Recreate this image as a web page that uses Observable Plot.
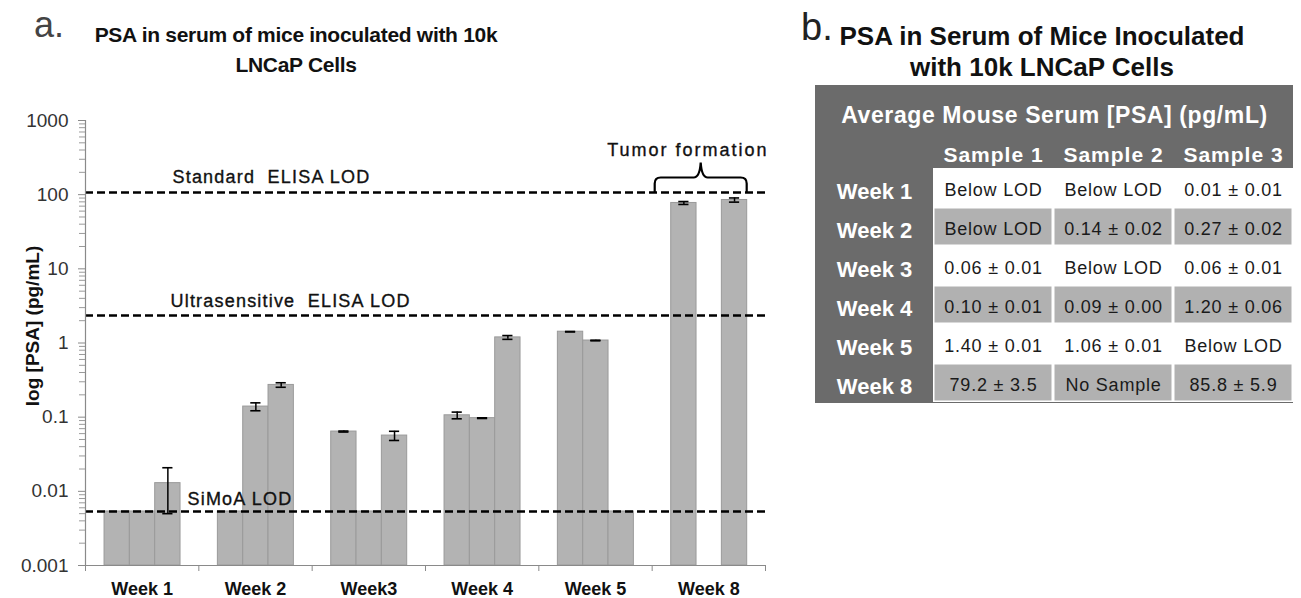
<!DOCTYPE html>
<html><head><meta charset="utf-8">
<script src="https://cdn.jsdelivr.net/npm/d3@7"></script>
<script src="https://cdn.jsdelivr.net/npm/@observablehq/plot@0.6"></script>
<style>
html,body{margin:0;padding:0;background:#fff;}
body{width:1301px;height:598px;overflow:hidden;position:relative;font-family:"Liberation Sans",Arial,sans-serif;color:#111;}
.abs{position:absolute;white-space:nowrap;}
#chart text, #table text{white-space:pre;}
</style></head><body>
<div class="abs" style="left:34px;top:7px;font-size:36px;line-height:36px;color:#444;">a.</div>
<div class="abs" style="left:46px;top:20px;width:500px;text-align:center;font-size:21px;font-weight:bold;line-height:30px;letter-spacing:-0.3px;">PSA in serum of mice inoculated with 10k<br>LNCaP Cells</div>
<div class="abs" style="left:801px;top:8px;font-size:38px;line-height:38px;color:#222;">b.</div>
<div class="abs" style="left:792px;top:21px;width:500px;text-align:center;font-size:26px;font-weight:bold;line-height:31px;">PSA in Serum of Mice Inoculated<br>with 10k LNCaP Cells</div>
<div id="chart" class="abs" style="left:0;top:100px;"></div>
<div id="table" class="abs" style="left:815px;top:85px;"></div>
<script>
// ---------- data ----------
const weeks = ["Week 1", "Week 2", "Week3", "Week 4", "Week 5", "Week 8"];
const samples = ["Sample 1", "Sample 2", "Sample 3"];
// bar heights in pg/mL; "LOD" = below SiMoA LOD (bar drawn up to the LOD), null = no sample
const sample1 = ["LOD", "LOD", 0.064, 0.106, 1.42, 77.3];
const sample2 = ["LOD", 0.139, "LOD", 0.097, 1.08, null];
const sample3 = [0.0129, 0.272, 0.0565, 1.19, "LOD", 84.8];
const error1 = [0, 0, 0.001, 0.011, 0.01, 3.5];
const error2 = [0, 0.017, 0, 0.001, 0.01, 0];
const error3 = [0.0079, 0.019, 0.008, 0.07, 0, 5.5];
const lodNames = ["Standard  ELISA LOD", "Ultrasensitive  ELISA LOD", "SiMoA LOD"];
const lodValues = [107, 2.34, 0.00535];
const yTicks = [0.001, 0.01, 0.1, 1, 10, 100, 1000];
const annotation = "Tumor formation";
const yLabel = "log [PSA] (pg/mL)";
const tableHeader = "Average Mouse Serum [PSA] (pg/mL)";
const table1 = ["Below LOD", "Below LOD", "0.06 ± 0.01", "0.10 ± 0.01", "1.40 ± 0.01", "79.2 ± 3.5"];
const table2 = ["Below LOD", "0.14 ± 0.02", "Below LOD", "0.09 ± 0.00", "1.06 ± 0.01", "No Sample"];
const table3 = ["0.01 ± 0.01", "0.27 ± 0.02", "0.06 ± 0.01", "1.20 ± 0.06", "Below LOD", "85.8 ± 5.9"];
const tableWeeks = ["Week 1", "Week 2", "Week 3", "Week 4", "Week 5", "Week 8"];

// ---------- build rows ----------
const series = [sample1, sample2, sample3];
const errors = [error1, error2, error3];
const simoa = lodValues[2];
const rows = [];
weeks.forEach((w, wi) => series.forEach((s, si) => {
  const raw = s[wi];
  if (raw === null) return;
  const v = raw === "LOD" ? simoa : raw;
  const e = raw === "LOD" ? 0 : errors[si][wi];
  rows.push({week: w, wi, si, v, e, lod: raw === "LOD"});
}));
const pad = 0.168, bw = 0.2235, cap = 0.045;
const cx = d => d.wi + pad + d.si * bw + bw / 2;
const errRows = rows.filter(d => !d.lod);
const minors = [];
for (let p = -3; p < 3; p++) for (let k = 2; k <= 9; k++) minors.push(k * Math.pow(10, p));
const lods = lodNames.map((name, i) => ({name, value: lodValues[i]}));

const font = "'Liberation Sans', Arial, sans-serif";
const labelStyle = {textAnchor: "start", fontSize: 18, fill: "#111", stroke: "#111", strokeWidth: 0.35};
const chart = Plot.plot({
  width: 790, height: 498,
  marginLeft: 85, marginRight: 25, marginTop: 20, marginBottom: 33,
  style: {fontFamily: font, background: "transparent", overflow: "visible", color: "#222"},
  x: {type: "linear", domain: [0, weeks.length]},
  y: {type: "log", domain: [0.001, 1000]},
  marks: [
    Plot.rect(rows, {x1: d => d.wi + pad + d.si * bw, x2: d => d.wi + pad + (d.si + 1) * bw,
      y1: 0.001, y2: "v", fill: "#b3b3b3", stroke: "#9a9a9a", strokeWidth: 1}),
    Plot.ruleY(lods, {y: "value", x1: 0, x2: weeks.length, stroke: "#000", strokeWidth: 2.5, strokeDasharray: "8,4"}),
    Plot.ruleX(errRows, {x: cx, y1: d => d.v - d.e, y2: d => d.v + d.e, stroke: "#000", strokeWidth: 1.5}),
    Plot.ruleY(errRows, {y: d => d.v - d.e, x1: d => cx(d) - cap, x2: d => cx(d) + cap, stroke: "#000", strokeWidth: 1.6}),
    Plot.ruleY(errRows, {y: d => d.v + d.e, x1: d => cx(d) - cap, x2: d => cx(d) + cap, stroke: "#000", strokeWidth: 1.6}),
    Plot.ruleX([0], {stroke: "#8a8a8a", strokeWidth: 1.2}),
    Plot.ruleY([0.001], {stroke: "#8a8a8a", strokeWidth: 1.2}),
    Plot.axisY({ticks: yTicks, tickFormat: d => String(d), tickSize: 7, tickPadding: 10, fontSize: 19, stroke: "#8a8a8a", fill: "#333", label: null}),
    Plot.axisY({ticks: minors, tickFormat: () => "", tickSize: 6, stroke: "#9a9a9a", label: null}),
    Plot.axisX({ticks: d3.range(weeks.length + 1), tickFormat: () => "", tickSize: 6, stroke: "#8a8a8a", label: null}),
    Plot.axisX({ticks: weeks.map((_, i) => i + 0.5), tickFormat: d => weeks[Math.floor(d)], tickSize: 0, tickPadding: 17,
      fontSize: 18, fontWeight: "bold", fill: "#111", label: null}),
    Plot.text([lods[0]], {x: 0, y: "value", text: "name", dx: 87, dy: -15, ...labelStyle}),
    Plot.text([lods[1]], {x: 0, y: "value", text: "name", dx: 85, dy: -14.5, ...labelStyle}),
    Plot.text([lods[2]], {x: 0, y: "value", text: "name", dx: 102, dy: -12.5, ...labelStyle}),
    Plot.text([annotation], {x: weeks.indexOf("Week 8") + 0.5, y: lodValues[0], text: d => d, dx: -21, dy: -42.5, ...labelStyle, textAnchor: "middle"}),
    Plot.text([yLabel], {frameAnchor: "left", text: d => d, rotate: -90, textAnchor: "middle", lineAnchor: "middle",
      dx: -53, dy: -17, fontSize: 19, fontWeight: "bold", fill: "#111"})
  ]
});
// letter spacing of annotation texts
d3.select(chart).selectAll("text").filter(function() { return lodNames.includes(this.textContent); }).attr("letter-spacing", "1.2px");
d3.select(chart).selectAll("text").filter(function() { return this.textContent === annotation; }).attr("letter-spacing", "2px");
// brace over Week 8, positioned through the plot's scales
{
  const sx = chart.scale("x"), sy = chart.scale("y");
  const w8 = weeks.indexOf("Week 8");
  const xL = sx.apply(w8 + pad) - 16, xR = sx.apply(w8 + pad + 3 * bw);
  const yB = sy.apply(lodValues[0]) + 0.5, yT = yB - 15, ySp = yT - 15;
  const xm = (xL + xR) / 2, r = 6;
  const path = `M${xL},${yB} L${xL},${yT + r} Q${xL},${yT} ${xL + r},${yT} L${xm - 7},${yT} Q${xm - 1},${yT} ${xm},${ySp} Q${xm + 1},${yT} ${xm + 7},${yT} L${xR - r},${yT} Q${xR},${yT} ${xR},${yT + r} L${xR},${yB}`;
  d3.select(chart).append("path").attr("d", path).attr("fill", "none").attr("stroke", "#000").attr("stroke-width", 2.2);
}
document.getElementById("chart").appendChild(chart);

// ---------- table ----------
const tcols = [table1, table2, table3];
const cells = [];
tableWeeks.forEach((w, ri) => samples.forEach((s, ci) => cells.push({week: w, sample: s, ri, text: tcols[ci][ri]})));
const table = Plot.plot({
  width: 478, height: 318,
  marginLeft: 118, marginTop: 82, marginRight: 0, marginBottom: 0,
  style: {fontFamily: font, background: "#6b6b6b", overflow: "visible"},
  x: {type: "band", domain: samples, padding: 0, axis: null},
  y: {type: "band", domain: tableWeeks, padding: 0, axis: null},
  marks: [
    Plot.cell(cells, {x: "sample", y: "week", fill: "#ffffff"}),
    Plot.cell(cells.filter(d => d.ri % 2 === 1), {x: "sample", y: "week", fill: "#b1b1b1", inset: 1.5}),
    Plot.text(cells, {x: "sample", y: "week", text: "text", dy: 2.5, fontSize: 18, fill: "#1a1a1a"}),
    Plot.text(samples, {x: d => d, text: d => d, frameAnchor: "top", lineAnchor: "middle", textAnchor: "middle", dy: -12, fontSize: 21, fontWeight: "bold", fill: "#fff"}),
    Plot.text(tableWeeks, {y: d => d, text: d => d, frameAnchor: "left", textAnchor: "middle", lineAnchor: "middle", dx: -59, dy: 4, fontSize: 22, fontWeight: "bold", fill: "#fff"}),
    Plot.text([tableHeader], {text: d => d, frameAnchor: "top", textAnchor: "middle", lineAnchor: "middle", dx: -59, dy: -52, fontSize: 23, fontWeight: "bold", fill: "#fff"})
  ]
});
d3.select(table).selectAll("text").filter(function() { return samples.includes(this.textContent); }).attr("letter-spacing", "1px");
d3.select(table).selectAll("text").filter(function() { return this.textContent === tableHeader; }).attr("letter-spacing", "0.6px");
d3.select(table).selectAll("text").filter(function() { return [...table1, ...table2, ...table3].includes(this.textContent); }).attr("letter-spacing", "0.8px");
document.getElementById("table").appendChild(table);
</script>
</body></html>
